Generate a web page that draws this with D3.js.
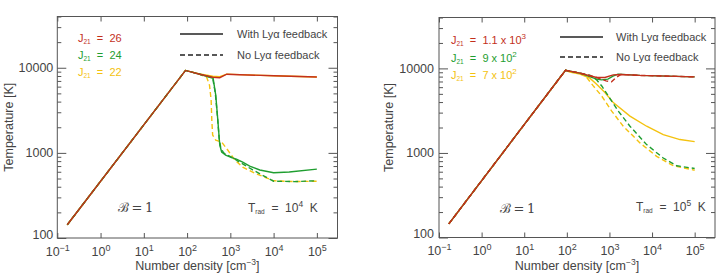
<!DOCTYPE html>
<html>
<head>
<meta charset="utf-8">
<script src="https://cdn.jsdelivr.net/npm/d3@7"></script>
<style>
body{margin:0;background:#fff}
svg{display:block;font-family:"Liberation Sans",Arial,sans-serif}
</style>
</head>
<body>
<svg id="chart" width="718" height="278"></svg>
<script>
// axis ticks
const xTicks = [0.1, 1, 10, 100, 1000, 10000, 100000];
const xExps = ["\u22121", "0", "1", "2", "3", "4", "5"];
const yTicks = [100, 1000, 10000];
const yTickLabels = ["100", "1000", "10000"];

// left panel: T_rad = 1e4 K, J21 = 26 / 24 / 22   ([n, T] pairs)
const leftRedSolid = [[0.17,143],[92,9300],[196,8390],[392,7740],[569,7640],[826,8390],[1650,8280],[10000,8050],[100000,7780]];
const leftYellowSolid = [[0.17,143],[92,9300],[196,8450],[392,7950],[569,7850],[826,8420],[1650,8300],[10000,8060],[100000,7790]];
const leftGreenSolid = [[0.17,143],[92,9300],[196,8390],[400,7500],[460,4760],[513,2430],[570,1230],[630,1024],[780,942],[1070,880],[1380,846],[1930,780],[2800,700],[4800,630],[10000,585],[23000,595],[100000,645]];
const leftGreenDashed = [[0.17,143],[92,9300],[196,8390],[390,7650],[450,5000],[500,2800],[550,1500],[600,1150],[700,1000],[1150,870],[1500,800],[3300,630],[10000,465],[30000,460],[100000,470]];
const leftYellowDashed = [[0.17,143],[92,9300],[196,8390],[285,7700],[330,6240],[360,4160],[373,2430],[390,1620],[460,1410],[630,1340],[870,1080],[1260,830],[1930,680],[3600,580],[10000,470],[30000,460],[100000,465]];

// right panel: T_rad = 1e5 K, J21 = 1.1e3 / 9e2 / 7e2
const rightRedSolid = [[0.17,145],[93,9500],[203,8790],[500,7810],[783,7810],[1230,8390],[1860,8480],[5200,8260],[100000,7940]];
const rightRedDashed = [[0.17,145],[93,9500],[203,8790],[500,7810],[828,7110],[1120,6930],[1410,7770],[1860,8480],[5200,8260],[100000,7940]];
const rightGreenSolid = [[0.17,145],[93,9500],[203,8790],[500,7470],[656,7320],[920,7470],[1210,8090],[1580,8550],[5200,8260],[100000,7940]];
const rightGreenDashed = [[0.17,145],[93,9500],[203,8790],[347,8320],[500,7320],[667,6160],[938,4720],[1610,3130],[3030,2070],[7460,1255],[18300,871],[37800,706],[100000,655]];
const rightYellowSolid = [[0.17,145],[93,9500],[118,9030],[203,8550],[347,7670],[500,6500],[783,5180],[1230,3940],[3030,2730],[7460,2070],[18300,1650],[45200,1440],[100000,1360]];
const rightYellowDashed = [[0.17,145],[93,9500],[203,8790],[266,8320],[417,6210],[656,4720],[1130,3130],[2110,2070],[5200,1315],[12800,912],[31500,706],[100000,625]];

const RED = "#c3301c", GREEN = "#1f9e30", YELLOW = "#f4c20f";
const INK = "#444";

const panels = [
  {x0:57.3, x1:337.5, y0:16.5, y1:238, ylabX:9, labPad:4,
   jText:[["26"],["24"],["22"]], jX:78, jY:[42,59,76],
   legX1:180, legX2:223, legY:[34,55], legTX:237,
   bX:118, bY:212, tX:248, tY:212, tExp:"4",
   series:[[leftYellowDashed,YELLOW,true],[leftYellowSolid,YELLOW,false],[leftGreenDashed,GREEN,true],[leftGreenSolid,GREEN,false],[leftRedSolid,RED,false]]},
  {x0:439, x1:715, y0:17.5, y1:237.5, ylabX:389, labPad:5,
   jText:[["1.1 x 10","3"],["9 x 10","2"],["7 x 10","2"]], jX:451, jY:[44,62,79],
   legX1:560, legX2:603, legY:[37,57], legTX:616,
   bX:500, bY:213, tX:636, tY:211, tExp:"5",
   series:[[rightYellowDashed,YELLOW,true],[rightYellowSolid,YELLOW,false],[rightGreenDashed,GREEN,true],[rightGreenSolid,GREEN,false],[rightRedDashed,RED,true],[rightRedSolid,RED,false]]}
];

const jColors = [RED, GREEN, YELLOW];
const yMinor = [];
[100, 1000, 10000].forEach(d => { for (let k = 2; k <= 9; k++) if (d*k <= 40000) yMinor.push(d*k); });

const svg = d3.select("#chart");

panels.forEach(p => {
  const x = d3.scaleLog().domain([0.1, 3e5]).range([p.x0, p.x1]);
  const y = d3.scaleLog().domain([100, 4e4]).range([p.y1, p.y0]);
  const g = svg.append("g");

  // curves
  const line = d3.line().x(d => x(d[0])).y(d => y(d[1]));
  p.series.forEach(([data, col, dashed]) => {
    g.append("path").attr("d", line(data)).attr("fill", "none")
      .attr("stroke", col).attr("stroke-width", 1.4)
      .attr("stroke-dasharray", dashed ? "5,3" : null);
  });

  // axes (IDL style: ticks inward on all sides)
  const styleAxis = sel => {
    sel.select(".domain").remove();
    sel.selectAll("line").attr("stroke", "#555");
    sel.selectAll("text").attr("fill", INK).attr("font-family", "Liberation Sans, Arial, sans-serif");
  };
  g.append("g").attr("transform", `translate(0,${p.y1})`)
    .call(d3.axisBottom(x).tickValues(xTicks).tickSizeInner(-5).tickSizeOuter(0).tickPadding(9).tickFormat(""))
    .call(styleAxis)
    .selectAll(".tick text").each(function(d, i) {
      const t = d3.select(this).attr("font-size", 12.5);
      t.append("tspan").text("10");
      t.append("tspan").attr("dy", -5).attr("font-size", 9).text(xExps[i]);
    });
  g.append("g").attr("transform", `translate(0,${p.y0})`)
    .call(d3.axisTop(x).tickValues(xTicks).tickSizeInner(-5).tickSizeOuter(0).tickFormat(""))
    .call(styleAxis);
  g.append("g").attr("transform", `translate(${p.x0},0)`)
    .call(d3.axisLeft(y).tickValues(yTicks).tickSizeInner(-9).tickSizeOuter(0).tickPadding(p.labPad).tickFormat((d, i) => yTickLabels[i]))
    .call(styleAxis)
    .selectAll("text").attr("font-size", 12.5)
    .attr("y", d => d === 100 ? -4 : 0);
  g.append("g").attr("transform", `translate(${p.x0},0)`)
    .call(d3.axisLeft(y).tickValues(yMinor).tickSizeInner(-4).tickSizeOuter(0).tickFormat(""))
    .call(styleAxis);
  g.append("g").attr("transform", `translate(${p.x1},0)`)
    .call(d3.axisRight(y).tickValues(yTicks).tickSizeInner(-9).tickSizeOuter(0).tickFormat(""))
    .call(styleAxis);
  g.append("g").attr("transform", `translate(${p.x1},0)`)
    .call(d3.axisRight(y).tickValues(yMinor).tickSizeInner(-4).tickSizeOuter(0).tickFormat(""))
    .call(styleAxis);

  g.append("rect").attr("x", p.x0).attr("y", p.y0)
    .attr("width", p.x1 - p.x0).attr("height", p.y1 - p.y0)
    .attr("fill", "none").attr("stroke", "#555").attr("stroke-width", 1);

  // axis titles
  const xl = g.append("text").attr("x", (p.x0 + p.x1) / 2).attr("y", 270)
    .attr("text-anchor", "middle").attr("font-size", 12.5).attr("fill", INK);
  xl.append("tspan").text("Number density [cm");
  xl.append("tspan").attr("dy", -5).attr("font-size", 8.5).text("\u22123");
  xl.append("tspan").attr("dy", 5).text("]");
  g.append("text").attr("transform", `translate(${p.ylabX},${(p.y0 + p.y1) / 2}) rotate(-90)`)
    .attr("text-anchor", "middle").attr("dy", "0.35em").attr("font-size", 12.5).attr("fill", INK)
    .text("Temperature [K]");

  // J21 labels
  p.jText.forEach((jt, i) => {
    const t = g.append("text").attr("x", p.jX).attr("y", p.jY[i]).attr("font-size", 11).attr("fill", jColors[i]);
    t.append("tspan").text("J");
    t.append("tspan").attr("dy", 2).attr("font-size", 6.5).text("21");
    t.append("tspan").attr("dy", -2).attr("xml:space", "preserve").text("  =  " + jt[0]);
    if (jt[1]) t.append("tspan").attr("dy", -5).attr("font-size", 8).text(jt[1]);
  });

  // line style legend
  ["With Ly\u03b1 feedback", "No Ly\u03b1 feedback"].forEach((lab, i) => {
    g.append("line").attr("x1", p.legX1).attr("x2", p.legX2)
      .attr("y1", p.legY[i]).attr("y2", p.legY[i])
      .attr("stroke", "#222").attr("stroke-width", 1.4)
      .attr("stroke-dasharray", i ? "5,3" : null);
    g.append("text").attr("x", p.legTX).attr("y", p.legY[i] + 4)
      .attr("font-size", 11).attr("fill", INK).text(lab);
  });

  // annotations
  g.append("text").attr("x", p.bX).attr("y", p.bY).attr("font-size", 13)
    .attr("font-family", "DejaVu Serif, serif").attr("fill", INK).text("\u212c\u2009=\u20091");
  const tr = g.append("text").attr("x", p.tX).attr("y", p.tY).attr("font-size", 12).attr("fill", INK);
  tr.append("tspan").text("T");
  tr.append("tspan").attr("dy", 2).attr("font-size", 6.5).text("rad");
  tr.append("tspan").attr("dy", -2).attr("xml:space", "preserve").text("  =  10");
  tr.append("tspan").attr("dy", -5).attr("font-size", 8.5).text(p.tExp);
  tr.append("tspan").attr("dy", 5).attr("xml:space", "preserve").text("  K");
});
</script>
</body>
</html>
